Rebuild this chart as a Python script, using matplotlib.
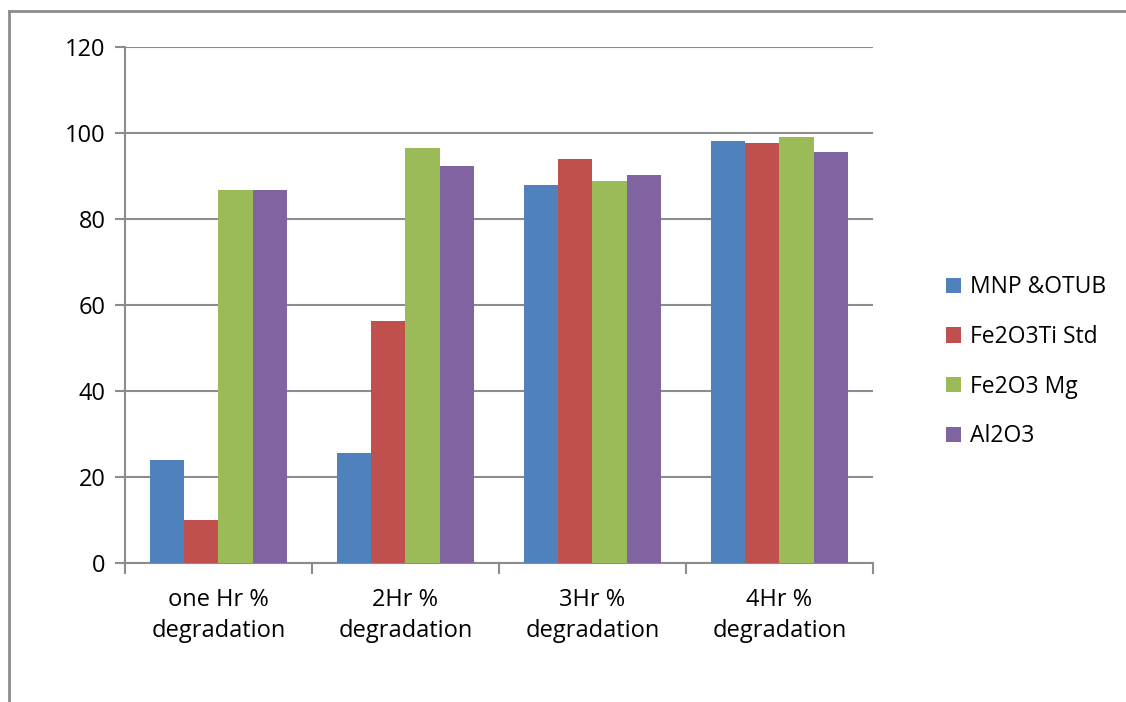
import numpy as np
import matplotlib.pyplot as plt
from matplotlib.lines import Line2D

plt.rcParams['font.family'] = ['Open Sans', 'DejaVu Sans']

# categories and series
categories = ['one Hr %\ndegradation', '2Hr %\ndegradation', '3Hr %\ndegradation', '4Hr %\ndegradation']
series_names = ['MNP &OTUB', 'Fe2O3Ti Std', 'Fe2O3 Mg', 'Al2O3']
mnp_otub = [24.0, 25.6, 87.9, 98.2]
fe2o3ti_std = [10.0, 56.2, 94.0, 97.7]
fe2o3_mg = [86.6, 96.5, 88.7, 99.1]
al2o3 = [86.6, 92.4, 90.2, 95.6]
colors = ['#4f81bd', '#c0504d', '#9bbb59', '#8064a2']

fig = plt.figure(figsize=(11.26, 7.02), dpi=100)
ax = fig.add_axes([0.111, 0.1976, 0.6643, 0.7359])

x = np.arange(len(categories))
w = 0.182
for i, (vals, name) in enumerate(zip([mnp_otub, fe2o3ti_std, fe2o3_mg, al2o3], series_names)):
    ax.bar(x + (i - 1.5) * w, vals, w, color=colors[i], label=name, zorder=3)

ax.set_xlim(-0.5, 3.5)
ax.set_ylim(0, 120)
ax.set_yticks(range(0, 121, 20))
ax.yaxis.grid(True, color='#8c8c8c', linewidth=1.5, zorder=0)

# group labels centred, tick marks between groups
ax.set_xticks(x)
ax.set_xticklabels(categories, fontsize=17, linespacing=1.35)
ax.tick_params(axis='x', length=0, pad=18)
ax.set_xticks(np.arange(-0.5, 4, 1), minor=True)
ax.tick_params(axis='x', which='minor', length=8, width=1.5, color='#8c8c8c')
ax.tick_params(axis='y', length=7, width=1.5, color='#8c8c8c', labelsize=17, pad=7)

for s in ['top', 'right']:
    ax.spines[s].set_visible(False)
for s in ['left', 'bottom']:
    ax.spines[s].set_color('#8c8c8c')
    ax.spines[s].set_linewidth(1.5)

ax.legend(loc='center left', bbox_to_anchor=(1.07, 0.39), frameon=False,
          fontsize=16.5, handlelength=0.65, handleheight=0.65, labelspacing=1.12,
          handletextpad=0.4)

# outer chart border (partly visible)
fig.add_artist(Line2D([8.5 / 1126, 8.5 / 1126], [0, 1 - 10.5 / 702],
                      transform=fig.transFigure, color='#8c8c8c', linewidth=2))
fig.add_artist(Line2D([8.5 / 1126, 1], [1 - 10.5 / 702, 1 - 10.5 / 702],
                      transform=fig.transFigure, color='#8c8c8c', linewidth=2))

plt.savefig('out.png', dpi=100)
